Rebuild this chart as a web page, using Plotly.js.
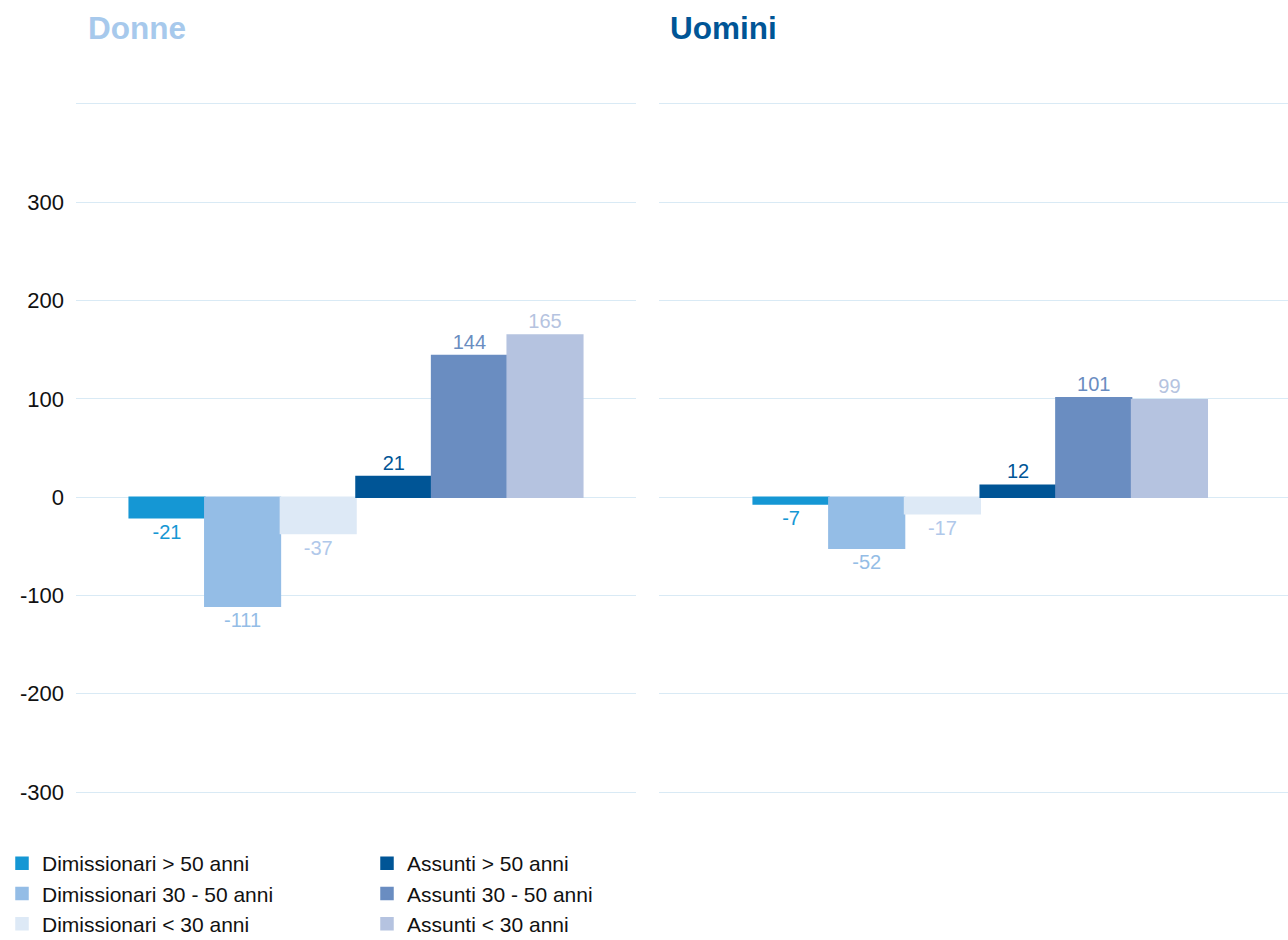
<!DOCTYPE html>
<html>
<head>
<meta charset="utf-8">
<script src="https://cdn.plot.ly/plotly-3.0.1.min.js"></script>
<style>html,body{margin:0;padding:0;background:#fff;}#chart{width:1288px;height:940px;}</style>
</head>
<body>
<div id="chart"></div>
<script>
const panels = ['Donne', 'Uomini'];
const seriesNames = ['Dimissionari > 50 anni', 'Dimissionari 30 - 50 anni', 'Dimissionari < 30 anni',
                     'Assunti > 50 anni', 'Assunti 30 - 50 anni', 'Assunti < 30 anni'];
const donneValues = [-21, -111, -37, 21, 144, 165];
const uominiValues = [-7, -52, -17, 12, 101, 99];
const barColors = ['#1597d4', '#94bde6', '#dde9f6', '#005596', '#6a8dc1', '#b5c3e0'];
const labelColors = ['#1597d4', '#94bde6', '#b0c8ea', '#005596', '#6a8dc1', '#b5c3e0'];
const tickVals = [-300, -200, -100, 0, 100, 200, 300, 400];
const tickText = ['-300', '-200', '-100', '0', '100', '200', '300', ''];

const FONT = 'Liberation Sans, Arial, Helvetica, sans-serif';
const traces = [];
const panelData = [donneValues, uominiValues];
panelData.forEach((vals, p) => {
  vals.forEach((v, i) => {
    traces.push({
      type: 'bar',
      x: [panels[p]],
      y: [v],
      name: seriesNames[i],
      xaxis: p === 0 ? 'x' : 'x2',
      yaxis: p === 0 ? 'y' : 'y2',
      marker: {color: barColors[i], line: {color: barColors[i], width: 1.5}},
      text: [String(v)],
      textposition: 'outside',
      textfont: {color: labelColors[i], size: 20, family: FONT},
      cliponaxis: false,
      showlegend: p === 0,
      legend: i < 3 ? 'legend' : 'legend2',
      legendgroup: 'g' + i,
      hoverinfo: 'skip'
    });
  });
});

const mL = 76, plotW = 1212, mT = 102, mB = 146, plotH = 940 - mT - mB;
const yMin = -302, yMax = 402;
const px = (x) => (x - mL) / plotW;
const py = (y) => (940 - mB - y) / plotH;

const yax = {
  range: [yMin, yMax], tickvals: tickVals, ticktext: tickText,
  gridcolor: '#d9eaf5', gridwidth: 1, zeroline: false, showline: false,
  ticks: '', tickfont: {size: 22, color: '#111', family: FONT}, fixedrange: true
};

const layout = {
  width: 1288, height: 940,
  margin: {l: mL, r: 0, t: mT, b: mB, autoexpand: false},
  paper_bgcolor: '#fff', plot_bgcolor: '#fff',
  font: {family: FONT},
  barmode: 'group', bargap: 0.19, bargroupgap: 0,
  xaxis: {domain: [0, px(636)], range: [-0.5, 0.5], showticklabels: false, showgrid: false, zeroline: false, type: 'category', fixedrange: true},
  xaxis2: {domain: [px(659), 1], range: [-0.573, 0.549], showticklabels: false, showgrid: false, zeroline: false, type: 'category', fixedrange: true},
  yaxis: Object.assign({anchor: 'x', ticklabelstandoff: 11}, yax),
  yaxis2: Object.assign({anchor: 'x2', showticklabels: false}, yax),
  legend: {x: px(2), y: py(843), xanchor: 'left', yanchor: 'top', orientation: 'v',
           font: {size: 21, color: '#111', family: FONT}, tracegroupgap: 0, bgcolor: 'rgba(0,0,0,0)'},
  legend2: {x: px(367), y: py(843), xanchor: 'left', yanchor: 'top', orientation: 'v',
            font: {size: 21, color: '#111', family: FONT}, tracegroupgap: 0, bgcolor: 'rgba(0,0,0,0)'},
  annotations: [
    {text: '<b>Donne</b>', xref: 'paper', yref: 'paper', x: px(86), y: py(28), xanchor: 'left', yanchor: 'middle',
     showarrow: false, font: {size: 31.5, color: '#a7c9ec', family: FONT}},
    {text: '<b>Uomini</b>', xref: 'paper', yref: 'paper', x: px(668), y: py(28), xanchor: 'left', yanchor: 'middle',
     showarrow: false, font: {size: 31.5, color: '#005596', family: FONT}}
  ]
};

Plotly.newPlot('chart', traces, layout, {displayModeBar: false, staticPlot: true});
</script>
</body>
</html>
